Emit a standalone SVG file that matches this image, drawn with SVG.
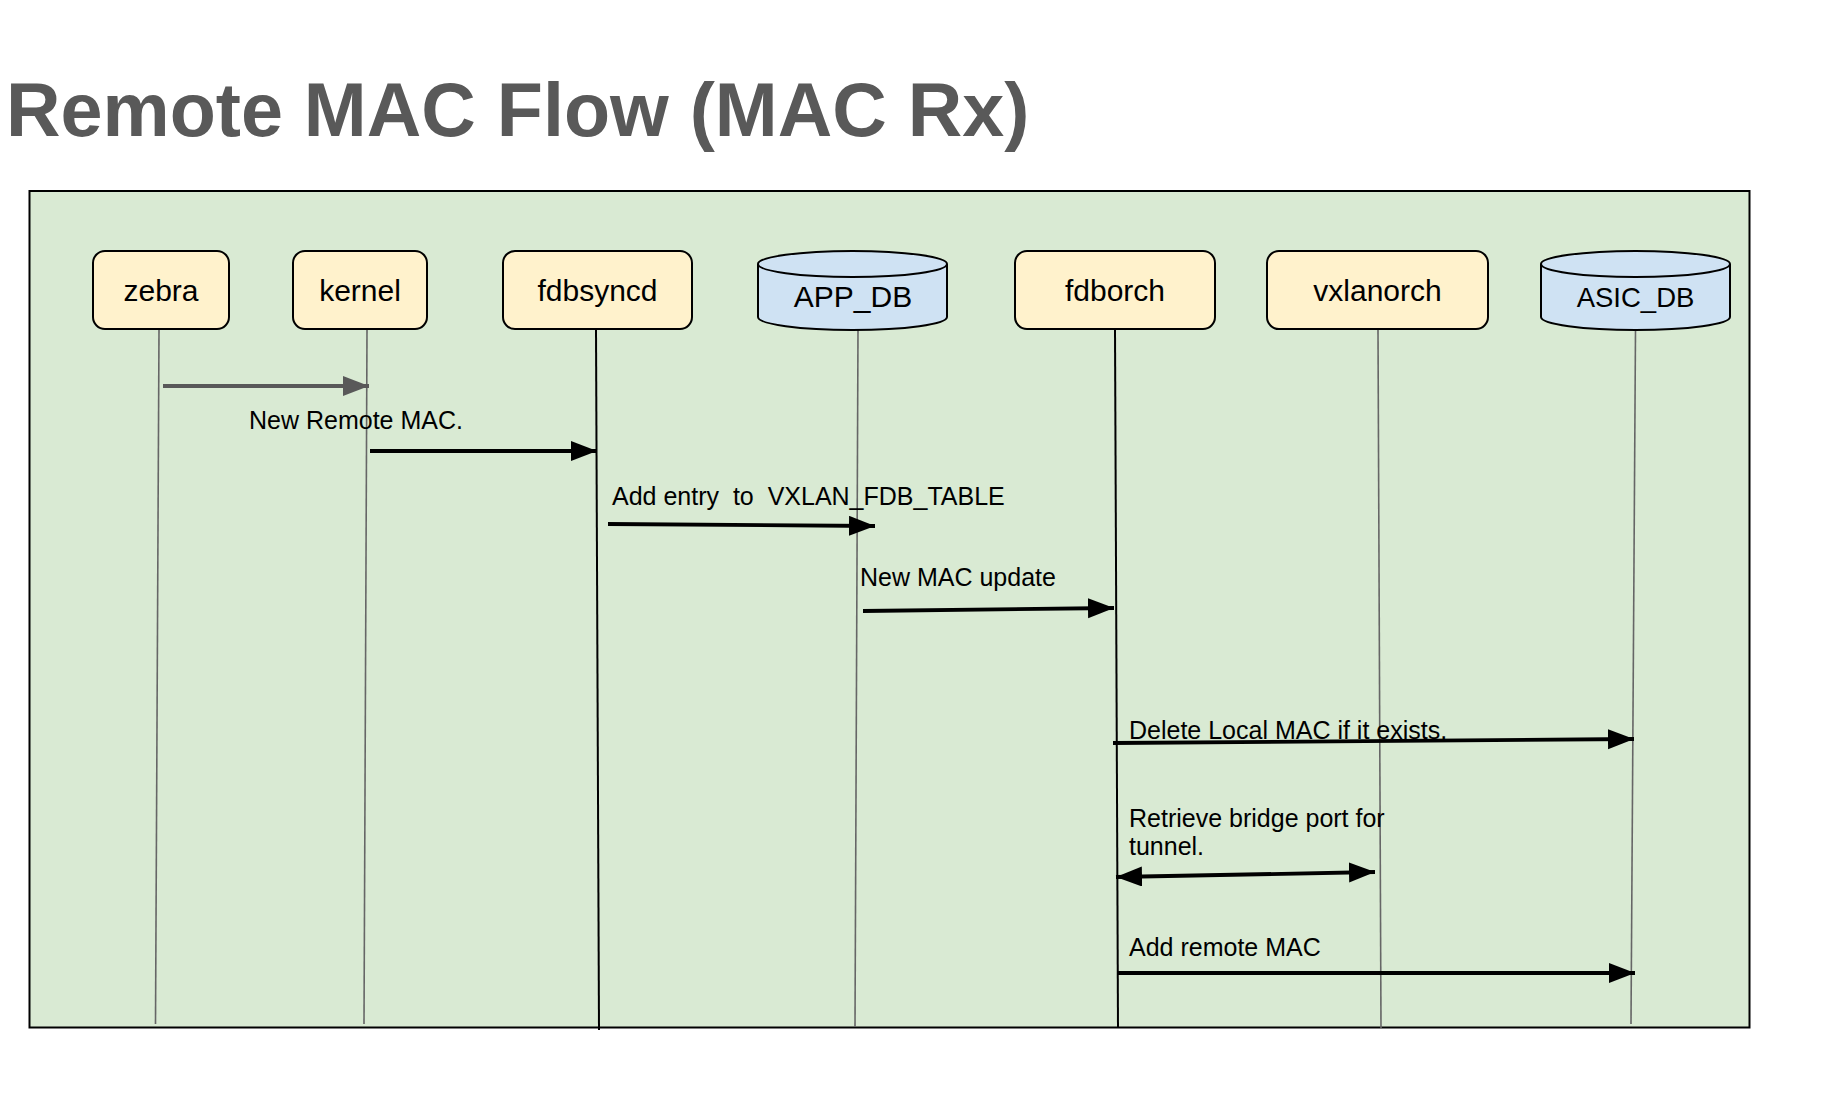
<svg xmlns="http://www.w3.org/2000/svg" width="1823" height="1095" viewBox="0 0 1823 1095">
<defs>
<style>
.title{font-family:"Liberation Sans",Arial,sans-serif;font-weight:bold;font-size:75.5px;fill:#595959}
.box{fill:#fff2cc;stroke:#000;stroke-width:2}
.db{fill:#cfe2f3;stroke:#000;stroke-width:2}
.lbl{font-family:"Liberation Sans",Arial,sans-serif;font-size:30px;fill:#000;text-anchor:middle}
.msg{font-family:"Liberation Sans",Arial,sans-serif;font-size:25px;fill:#000;white-space:pre}
.lg{stroke:#666;stroke-width:1.6;fill:none}
.lb{stroke:#000;stroke-width:2;fill:none}
.ar{stroke:#000;stroke-width:3.8;fill:none;marker-end:url(#ah)}
.arg{stroke:#595959;stroke-width:3.8;fill:none;marker-end:url(#ahg)}
</style>
<marker id="ah" markerUnits="userSpaceOnUse" markerWidth="27" markerHeight="21" refX="26" refY="10" orient="auto-start-reverse"><path d="M0,0 L26,10 L0,20 z" fill="#000"/></marker>
<marker id="ahg" markerUnits="userSpaceOnUse" markerWidth="27" markerHeight="21" refX="26" refY="10" orient="auto"><path d="M0,0 L26,10 L0,20 z" fill="#595959"/></marker>
</defs>
<rect width="1823" height="1095" fill="#fff"/>
<text class="title" x="6" y="136">Remote MAC Flow (MAC Rx)</text>
<rect x="29.5" y="191" width="1720" height="836.5" fill="#d9ead3" stroke="#000" stroke-width="2"/>
<g id="lifelines">
<line class="lg" x1="159" y1="330" x2="155.5" y2="1024"/>
<line class="lg" x1="367" y1="330" x2="364" y2="1024"/>
<line class="lb" x1="596" y1="330" x2="599" y2="1030"/>
<line class="lg" x1="858" y1="330" x2="855" y2="1027"/>
<line class="lb" x1="1115" y1="330" x2="1118" y2="1028"/>
<line class="lg" x1="1378" y1="330" x2="1381" y2="1028"/>
<line class="lg" x1="1635.5" y1="330" x2="1631" y2="1024"/>
</g>
<g id="zebra"><rect class="box" x="93" y="251" width="136" height="78" rx="12"/><text class="lbl" x="161" y="301">zebra</text></g>
<g id="kernel"><rect class="box" x="293" y="251" width="134" height="78" rx="12"/><text class="lbl" x="360" y="301">kernel</text></g>
<g id="fdbsyncd"><rect class="box" x="503" y="251" width="189" height="78" rx="12"/><text class="lbl" x="597.5" y="301">fdbsyncd</text></g>
<g id="app_db"><path class="db" d="M758,264 A94.5,13 0 0,1 947,264 V317 A94.5,13 0 0,1 758,317 Z"/><path class="db" fill="none" d="M758,264 A94.5,13 0 0,0 947,264"/><text class="lbl" x="853" y="307">APP_DB</text></g>
<g id="fdborch"><rect class="box" x="1015" y="251" width="200" height="78" rx="12"/><text class="lbl" x="1115" y="301">fdborch</text></g>
<g id="vxlanorch"><rect class="box" x="1267" y="251" width="221" height="78" rx="12"/><text class="lbl" x="1377.5" y="301">vxlanorch</text></g>
<g id="asic_db"><path class="db" d="M1541,264 A94.5,13 0 0,1 1730,264 V317 A94.5,13 0 0,1 1541,317 Z"/><path class="db" fill="none" d="M1541,264 A94.5,13 0 0,0 1730,264"/><text class="lbl" x="1635.5" y="307" style="font-size:27.5px">ASIC_DB</text></g>
<g id="connectors">
<line class="arg" x1="163" y1="386" x2="369" y2="386"/>
<line class="ar" x1="370" y1="451" x2="597" y2="451"/>
<line class="ar" x1="608" y1="524" x2="875" y2="526"/>
<line class="ar" x1="863" y1="611" x2="1114" y2="608"/>
<line class="ar" x1="1113" y1="743" x2="1634" y2="739"/>
<line class="ar" x1="1116" y1="877" x2="1375" y2="872" style="marker-start:url(#ah)"/>
<line class="ar" x1="1118" y1="973" x2="1635" y2="973"/>
</g>
<g id="labels">
<text class="msg" x="249" y="429">New Remote MAC.</text>
<text class="msg" x="612" y="505" xml:space="preserve">Add entry  to  VXLAN_FDB_TABLE</text>
<text class="msg" x="860" y="586">New MAC update</text>
<text class="msg" x="1129" y="739">Delete Local MAC if it exists.</text>
<text class="msg" x="1129" y="827">Retrieve bridge port for</text>
<text class="msg" x="1129" y="855">tunnel.</text>
<text class="msg" x="1129" y="956">Add remote MAC</text>
</g>
</svg>
